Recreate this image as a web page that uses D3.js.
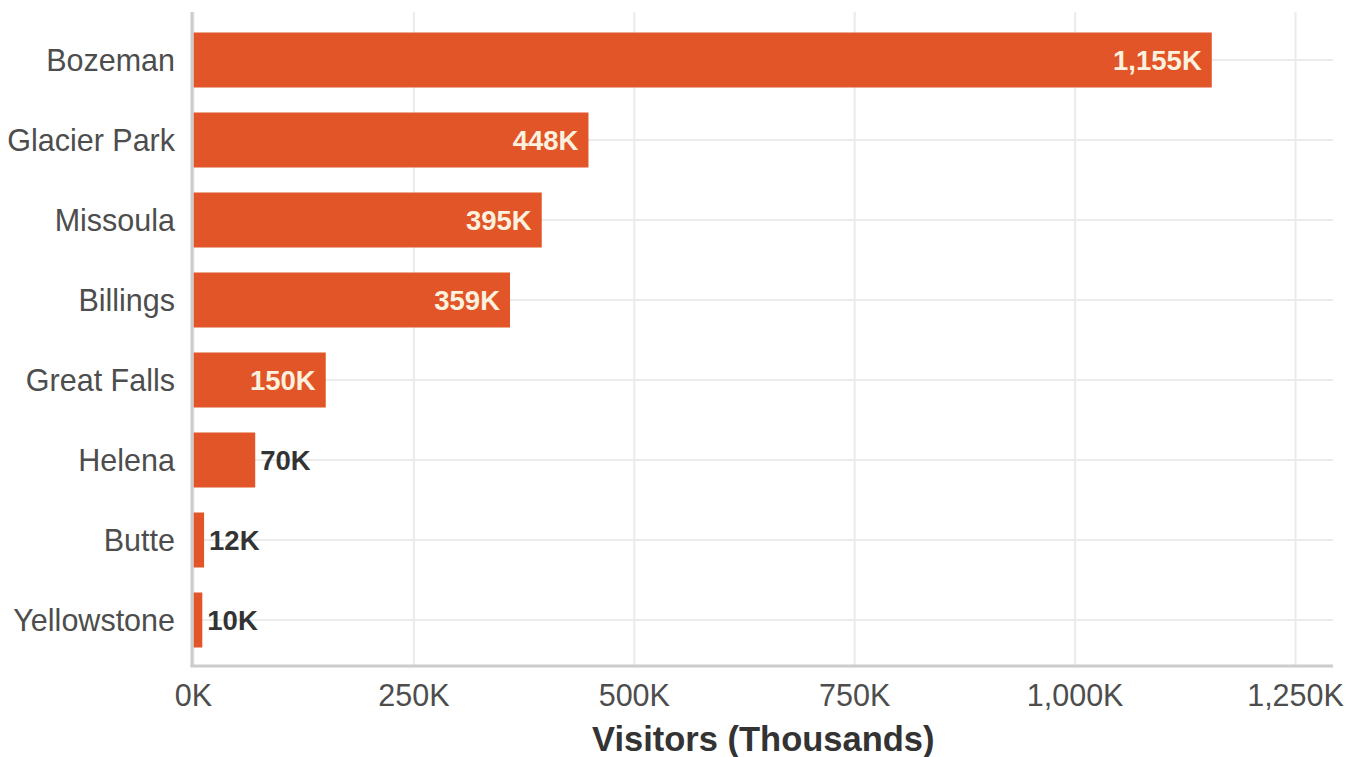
<!DOCTYPE html>
<html>
<head>
<meta charset="utf-8">
<script src="https://cdn.jsdelivr.net/npm/d3@7"></script>
<style>
  body { margin: 0; background: #fff; }
  svg { font-family: "Liberation Sans", Arial, sans-serif; }
</style>
</head>
<body>
<div id="chart"></div>
<script>
const cities = ['Bozeman', 'Glacier Park', 'Missoula', 'Billings', 'Great Falls', 'Helena', 'Butte', 'Yellowstone'];
const visitors = [1155, 448, 395, 359, 150, 70, 12, 10];
const xTicks = [0, 250, 500, 750, 1000, 1250];

const width = 1359, height = 757;
const plotLeft = 193.5, plotRight = 1333, plotTop = 12, plotBottom = 666;

const svg = d3.select('#chart')
  .append('svg')
  .attr('width', width)
  .attr('height', height);

const x = d3.scaleLinear()
  .domain([0, 1292.5])
  .range([plotLeft, plotRight]);

const y = d3.scaleBand()
  .domain(cities)
  .range([20, 660])
  .paddingInner(0.3125)
  .paddingOuter(0.15625);

const fmt = d3.format(',d');
const data = cities.map((c, i) => ({name: c, value: visitors[i]}));

// grid
svg.append('g')
  .selectAll('line')
  .data(xTicks)
  .enter().append('line')
  .attr('x1', d => x(d)).attr('x2', d => x(d))
  .attr('y1', plotTop).attr('y2', plotBottom)
  .attr('stroke', '#ebebeb')
  .attr('stroke-width', 2);

svg.append('g')
  .selectAll('line')
  .data(cities)
  .enter().append('line')
  .attr('x1', plotLeft).attr('x2', plotRight)
  .attr('y1', d => y(d) + y.bandwidth() / 2)
  .attr('y2', d => y(d) + y.bandwidth() / 2)
  .attr('stroke', '#ebebeb')
  .attr('stroke-width', 2);

// bars
svg.append('g')
  .selectAll('rect')
  .data(data)
  .enter().append('rect')
  .attr('x', x(0))
  .attr('y', d => y(d.name))
  .attr('width', d => x(d.value) - x(0))
  .attr('height', y.bandwidth())
  .attr('fill', '#e25528');

// value labels
svg.append('g')
  .selectAll('text')
  .data(data)
  .enter().append('text')
  .attr('x', d => d.value >= 100 ? x(d.value) - 10 : x(d.value) + 5)
  .attr('y', d => y(d.name) + y.bandwidth() / 2)
  .attr('dy', '0.36em')
  .attr('text-anchor', d => d.value >= 100 ? 'end' : 'start')
  .attr('font-size', 27.5)
  .attr('font-weight', 'bold')
  .attr('fill', d => d.value >= 100 ? '#fbf1de' : '#333333')
  .text(d => `${fmt(d.value)}K`);

// axis lines
svg.append('line')
  .attr('x1', plotLeft - 1.5).attr('x2', plotLeft - 1.5)
  .attr('y1', plotTop).attr('y2', plotBottom + 1)
  .attr('stroke', '#cccccc').attr('stroke-width', 3);
svg.append('line')
  .attr('x1', plotLeft - 3).attr('x2', plotRight)
  .attr('y1', plotBottom).attr('y2', plotBottom)
  .attr('stroke', '#cccccc').attr('stroke-width', 3);

// category labels
svg.append('g')
  .selectAll('text')
  .data(cities)
  .enter().append('text')
  .attr('x', 175)
  .attr('y', d => y(d) + y.bandwidth() / 2)
  .attr('dy', '0.36em')
  .attr('text-anchor', 'end')
  .attr('font-size', 30.5)
  .attr('fill', '#4d4d4d')
  .text(d => d);

// tick labels
svg.append('g')
  .selectAll('text')
  .data(xTicks)
  .enter().append('text')
  .attr('x', d => x(d))
  .attr('y', 695)
  .attr('dy', '0.36em')
  .attr('text-anchor', 'middle')
  .attr('font-size', 30.5)
  .attr('fill', '#4d4d4d')
  .text(d => `${fmt(d)}K`);

svg.append('text')
  .attr('x', (plotLeft + plotRight) / 2)
  .attr('y', 739)
  .attr('dy', '0.36em')
  .attr('text-anchor', 'middle')
  .attr('font-size', 34.5)
  .attr('font-weight', 'bold')
  .attr('fill', '#333333')
  .text('Visitors (Thousands)');
</script>
</body>
</html>
